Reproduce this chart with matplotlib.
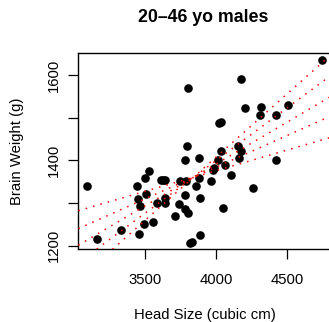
import matplotlib
matplotlib.use('Agg')
import matplotlib.pyplot as plt

plt.rcParams['font.family'] = ['Liberation Sans', 'DejaVu Sans']

# Dados
head_size = [3092, 3163, 3328, 3441, 3450, 3460, 3455, 3488, 3502, 3495,
             3524, 3557, 3583, 3611, 3625, 3639, 3637, 3639, 3708, 3736,
             3743, 3781, 3783, 3790, 3783, 3792, 3799, 3799, 3814, 3832,
             3858, 3877, 3875, 3889, 3889, 3960, 3979, 3986, 4009, 4031,
             4021, 4035, 4045, 4059, 4101, 4156, 4163, 4172, 4174, 4205,
             4262, 4306, 4313, 4422, 4422, 4509, 4743]
brain_weight = [1341, 1216, 1237, 1341, 1310, 1293, 1227, 1251, 1321, 1359,
                1376, 1256, 1301, 1355, 1355, 1355, 1311, 1301, 1270, 1298,
                1351, 1285, 1319, 1351, 1401, 1433, 1571, 1276, 1207, 1208,
                1341, 1358, 1405, 1311, 1225, 1351, 1377, 1383, 1401, 1423,
                1487, 1491, 1288, 1390, 1365, 1433, 1405, 1422, 1591, 1523,
                1336, 1507, 1526, 1402, 1506, 1531, 1637]

# Retas pontilhadas (valores nas extremidades do eixo x)
linha_x = [3028, 4805]
linhas_y = [[1282, 1454],
            [1240, 1504],
            [1201, 1550],
            [1160, 1599],
            [1120, 1647]]

fig = plt.figure(figsize=(3.29, 3.22), dpi=100)
ax = fig.add_axes([78.3 / 329, 1 - 249.3 / 322, (330.5 - 78.3) / 329, (249.3 - 52.7) / 322])

ax.plot(head_size, brain_weight, 'o', color='black', ms=6.2, mew=0, zorder=2)
for ly in linhas_y:
    ax.plot(linha_x, ly, color='red', lw=1.1, linestyle=(0, (1, 4)), zorder=3)

ax.set_xlim(3028, 4805)
ax.set_ylim(1191.5, 1653)
ax.set_xticks([3500, 4000, 4500])
ax.set_yticks([1200, 1300, 1400, 1500, 1600])
ax.set_yticklabels(['1200', '', '1400', '', '1600'], rotation=90, va='center')
ax.tick_params(direction='out', length=7, width=0.9, labelsize=10.7)
ax.tick_params(axis='x', pad=9.8)
ax.tick_params(axis='y', pad=5.3)
for s in ax.spines.values():
    s.set_linewidth(1.0)

ax.set_xlabel('Head Size (cubic cm)', fontsize=10.7)
ax.set_ylabel('Brain Weight (g)', fontsize=10.7)
ax.xaxis.set_label_coords(0.5, (249.3 - 315) / 196.6)
ax.xaxis.label.set_va('center')
ax.yaxis.set_label_coords((17.5 - 78.3) / 252.2, 0.5)
ax.yaxis.label.set_va('center')

fig.text(203 / 329, 1 - 17 / 322, '20–46 yo males', ha='center', va='center',
         fontsize=12.8, fontweight='bold')

fig.savefig('out.png', dpi=100)
